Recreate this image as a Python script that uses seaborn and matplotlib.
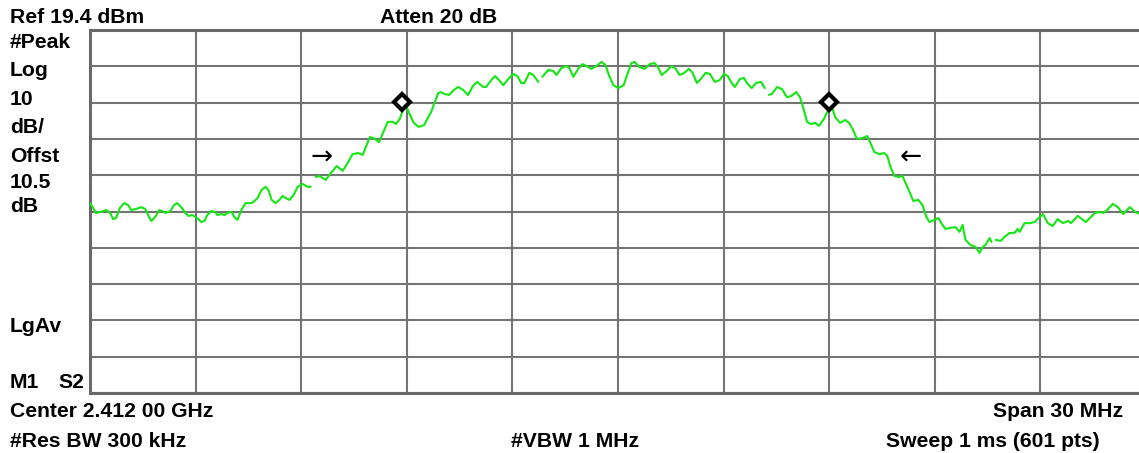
import numpy as np
import pandas as pd
import seaborn as sns
import matplotlib.pyplot as plt

# Spectrum analyzer trace, frequency offset from centre (MHz) and level (dBm)
# NaN marks a break in the drawn trace
freq_mhz = [
    -15.00, -14.91, -14.83, -14.69, -14.54, -14.43, -14.34, -14.26, -14.15, -14.03,
    -13.92, -13.83, -13.69, -13.55, -13.43, -13.35, -13.26, -13.15, -13.03, -12.95,
    -12.86, -12.72, -12.61, -12.52, -12.41, -12.29, -12.21, -12.09, -12.01, -11.92,
    -11.84, -11.75, -11.67, -11.55, -11.44, -11.38, -11.27, -11.18, -11.10, -10.98,
    -10.90, -10.81, -10.70, -10.58, -10.44, -10.36, -10.24, -10.13, -10.01, -9.93,
    -9.84, -9.73, -9.62, -9.53, -9.44, -9.33, -9.22, -9.10, -8.96, -8.82, -8.73,
    np.nan,
    -8.59, -8.48, -8.30, -8.16, -7.99, -7.82, -7.68, -7.54, -7.39, -7.25,
    -7.14, -7.05, -6.94, -6.79, -6.68, -6.54, -6.40, -6.31, -6.20, -6.11,
    -6.03, -5.91, -5.80, -5.66, -5.51, -5.46, -5.31, -5.11, -5.03, -4.94,
    -4.80, -4.66, -4.54, -4.40, -4.26, -4.12, -4.00, -3.83, -3.75, -3.60,
    -3.49, -3.38, -3.26, -3.09, -2.98, -2.86, -2.75, -2.66, -2.52, -2.41, -2.26,
    np.nan,
    -2.15, -1.98, -1.84, -1.75, -1.61, -1.47, -1.38, -1.27, -1.13, -1.01,
    -0.90, -0.76, -0.61, -0.47, -0.36, -0.24, -0.13, 0.01, 0.16, 0.24,
    0.38, 0.47, 0.61, 0.76, 0.90, 1.04, 1.15, 1.24, 1.38, 1.52,
    1.64, 1.75, 1.89, 2.01, 2.12, 2.24, 2.38, 2.49, 2.61, 2.75,
    2.89, 3.01, 3.12, 3.23, 3.32, 3.46, 3.58, 3.66, 3.80, 3.92, 4.06, 4.17,
    np.nan,
    4.29, 4.37, 4.52, 4.66, 4.80, 4.92, 5.06, 5.17, 5.28, 5.37,
    5.48, 5.60, 5.71, 5.85, 5.97, 6.05, 6.17, 6.31, 6.45, 6.57,
    6.68, 6.79, 6.94, 7.08, 7.16, 7.28, 7.42, 7.56, 7.65, 7.74,
    7.85, 7.97, 8.08, 8.16, 8.28, 8.39, 8.53, 8.65, 8.76, 8.85,
    8.99, 9.10, 9.22, 9.30, 9.44, 9.59, 9.70, 9.79, 9.87, 10.01,
    10.16, 10.27, 10.36, 10.44, 10.56, 10.61,
    np.nan,
    10.73, 10.87, 10.98, 11.13, 11.27, 11.35, 11.41, 11.55, 11.70, 11.84,
    11.98, 12.07, 12.21, 12.35, 12.49, 12.64, 12.78, 12.87, 13.06, 13.21,
    13.29, 13.55, 13.69, 13.78, 13.86, 14.06, 14.20, 14.35, 14.54, 14.69,
    14.83, 15.00,
]
level_dbm = [
    -28.3, -29.6, -31.0, -30.7, -30.2, -31.0, -32.7, -32.4, -29.6, -28.3,
    -28.8, -30.2, -29.9, -29.4, -29.9, -31.6, -33.2, -32.1, -30.2, -30.5,
    -31.0, -30.5, -28.8, -28.3, -29.4, -31.0, -31.8, -31.6, -32.1, -32.7,
    -33.5, -33.2, -31.6, -30.5, -30.7, -31.6, -31.3, -31.6, -31.0, -30.7,
    -32.1, -32.9, -30.2, -28.3, -28.3, -28.0, -26.9, -24.7, -23.8, -24.7,
    -27.4, -28.3, -27.4, -26.3, -26.9, -27.4, -26.1, -23.8, -23.0, -23.8, -23.8,
    np.nan,
    -21.1, -20.8, -21.9, -20.0, -18.1, -19.4, -17.2, -14.8, -14.5, -15.0,
    -12.3, -10.1, -10.4, -11.5, -9.0, -5.9, -5.9, -6.5, -5.1, -2.6,
    -1.3, -4.0, -6.2, -7.3, -6.8, -5.9, -3.2, 2.0, 2.3, 1.8,
    1.5, 2.9, 3.7, 2.9, 1.5, 4.0, 5.1, 3.7, 3.7, 5.6,
    6.7, 5.6, 4.2, 6.2, 7.3, 6.7, 4.8, 4.8, 7.6, 7.0, 5.1,
    np.nan,
    6.5, 8.4, 8.1, 7.0, 8.9, 9.5, 8.9, 6.5, 8.7, 10.0,
    9.5, 8.7, 9.5, 10.6, 9.8, 6.5, 4.2, 3.4, 4.2, 6.5,
    10.3, 10.6, 9.2, 8.7, 10.0, 10.3, 8.9, 7.0, 8.1, 9.5,
    8.7, 7.0, 7.6, 8.7, 7.6, 4.8, 6.2, 7.6, 7.3, 5.1,
    5.6, 7.3, 6.7, 4.8, 3.7, 5.9, 6.2, 4.8, 3.4, 4.8, 5.1, 3.4,
    np.nan,
    1.5, 1.8, 3.7, 3.1, 0.9, 1.2, 2.3, 0.9, -2.6, -5.9,
    -6.5, -6.2, -7.0, -5.1, -2.6, -1.0, -4.6, -6.2, -5.4, -6.2,
    -8.2, -10.6, -10.4, -9.8, -11.5, -14.2, -14.8, -14.5, -15.3, -18.3,
    -20.8, -21.1, -20.8, -22.5, -25.2, -27.7, -27.4, -28.8, -32.1, -33.5,
    -32.9, -32.4, -34.3, -35.4, -35.1, -34.9, -36.2, -34.3, -38.4, -39.8,
    -40.4, -42.0, -40.4, -39.8, -37.9, -39.0,
    np.nan,
    -38.4, -38.7, -37.6, -36.5, -36.5, -35.4, -36.2, -33.8, -33.8, -33.5,
    -32.1, -31.3, -33.8, -34.6, -32.7, -33.8, -33.2, -33.8, -31.8, -32.9,
    -33.5, -31.0, -30.7, -31.0, -30.5, -28.5, -29.4, -31.3, -29.4, -30.7,
    -31.3, -31.0,
]

# Markers and the bandwidth arrows
marker_freq = [-6.13, 6.00]
marker_level = [-0.3, -0.3]
arrow_freq = [-8.41, 8.33]
arrow_level = [-15.6, -15.6]
arrow_text = ["\u2192", "\u2190"]

ref_level = 19.4
db_per_div = 10

df = pd.DataFrame({"freq": freq_mhz, "level": level_dbm})
df["seg"] = df["level"].isna().cumsum()
df = df.dropna()

sns.set_theme(style="white")
plt.rcParams["font.family"] = ["Liberation Sans", "DejaVu Sans"]

W, H = 1139, 453
fig = plt.figure(figsize=(W / 100, H / 100), dpi=100)
# the graticule runs a little past the right edge of the screen grab
ax = fig.add_axes([90 / W, 60 / H, 1056 / W, 363 / H])

sns.lineplot(data=df, x="freq", y="level", units="seg", estimator=None,
             color="#14e614", linewidth=1.5, ax=ax, zorder=3)
ax.plot(marker_freq, marker_level, linestyle="none", marker="D", markersize=8,
        markerfacecolor="white", markeredgecolor="black", markeredgewidth=3,
        zorder=5)
for f, l, t in zip(arrow_freq, arrow_level, arrow_text):
    ax.text(f, l, t, fontsize=19, ha="center", va="center",
            family=["DejaVu Sans"], color="black", zorder=5)

# 10 x 10 graticule
ax.set_xlim(-15, 15)
ax.set_ylim(ref_level - 10 * db_per_div, ref_level)
ax.set_xticks(np.arange(-15, 15.1, 3))
ax.set_yticks(ref_level - db_per_div * np.arange(0, 11))
ax.grid(True, color="#747474", linewidth=1.5)
ax.tick_params(left=False, bottom=False, labelleft=False, labelbottom=False)
ax.set_xlabel("")
ax.set_ylabel("")
for side in ["left", "top", "bottom", "right"]:
    ax.spines[side].set_color("#6a6a6a")
    ax.spines[side].set_linewidth(2.2)

# Annotation text around the screen
fs = 15.2
def label(x, y, s, ha="left"):
    fig.text(x / W, 1 - y / H, s, fontsize=fs, fontweight="bold",
             ha=ha, va="baseline", color="black")

label(10, 23, "Ref 19.4 dBm")
label(380, 23, "Atten 20 dB")
label(10, 48, "#Peak")
label(10, 76, "Log")
label(10, 105, "10")
label(10, 133, "dB/")
label(10, 162, "Offst")
label(10, 188, "10.5")
label(10, 212, "dB")
label(10, 332, "LgAv")
label(10, 388, "M1")
label(58, 388, "S2")
label(10, 417, "Center 2.412 00 GHz")
label(1123, 417, "Span 30 MHz", ha="right")
label(10, 447, "#Res BW 300 kHz")
label(575, 447, "#VBW 1 MHz", ha="center")
label(1100, 447, "Sweep 1 ms (601 pts)", ha="right")

fig.savefig("out.png", dpi=100, facecolor="white")
